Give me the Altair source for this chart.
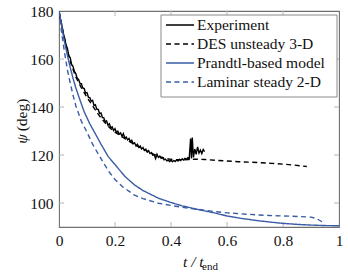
import altair as alt
import pandas as pd

# Measured angle psi (deg) against normalised time t / t_end
exp_t = [0.000, 0.005, 0.010, 0.015, 0.020, 0.025, 0.030, 0.035, 0.040, 0.045,
         0.050, 0.055, 0.060, 0.065, 0.070, 0.075, 0.080, 0.085, 0.090, 0.095,
         0.100, 0.105, 0.110, 0.115, 0.120, 0.125, 0.130, 0.135, 0.140, 0.145,
         0.150, 0.155, 0.160, 0.165, 0.170, 0.175, 0.180, 0.185, 0.190, 0.195,
         0.200, 0.205, 0.210, 0.215, 0.220, 0.225, 0.230, 0.235, 0.240, 0.245,
         0.250, 0.255, 0.260, 0.265, 0.270, 0.275, 0.280, 0.285, 0.290, 0.295,
         0.300, 0.305, 0.310, 0.315, 0.320, 0.325, 0.330, 0.335, 0.340, 0.345,
         0.350, 0.355, 0.360, 0.365, 0.370, 0.375, 0.380, 0.385, 0.390, 0.395,
         0.400, 0.405, 0.410, 0.415, 0.420, 0.425, 0.430, 0.435, 0.440, 0.445,
         0.450, 0.455, 0.460, 0.465, 0.470, 0.473, 0.476, 0.480, 0.485, 0.490,
         0.495, 0.500, 0.505, 0.510, 0.515, 0.520]
exp_psi = [180.0, 176.6, 174.1, 170.8, 168.9, 165.9, 164.4, 161.4, 160.5, 157.8,
           156.9, 154.8, 153.9, 152.0, 151.5, 149.8, 149.7, 147.9, 147.7, 145.8,
           146.0, 144.1, 143.9, 142.4, 142.8, 140.6, 140.9, 139.1, 139.0, 137.3,
           137.5, 135.6, 135.5, 133.8, 134.2, 132.4, 133.0, 131.3, 131.7, 130.2,
           131.0, 129.4, 129.9, 128.7, 129.2, 127.8, 128.9, 127.0, 127.5, 126.3,
           126.9, 125.5, 126.1, 124.7, 125.1, 123.8, 124.5, 123.2, 123.8, 122.5,
           123.1, 121.9, 122.4, 121.2, 121.8, 120.6, 121.0, 119.9, 120.1, 118.5,
           120.3, 119.0, 119.5, 118.6, 118.9, 118.0, 118.3, 117.6, 117.9, 117.3,
           117.8, 117.2, 117.7, 117.3, 117.9, 117.5, 118.2, 117.7, 118.4, 117.9,
           118.6, 118.2, 118.9, 118.4, 126.9, 118.6, 127.3, 119.0, 122.5, 120.3,
           123.4, 120.8, 122.0, 120.6, 122.3, 121.4]

des_t = [0.00, 0.02, 0.04, 0.06, 0.08, 0.10, 0.12, 0.14, 0.16, 0.18, 0.20,
         0.22, 0.24, 0.26, 0.28, 0.30, 0.32, 0.34, 0.36, 0.38, 0.40, 0.42,
         0.44, 0.46, 0.48, 0.50, 0.52, 0.56, 0.60, 0.64, 0.68, 0.72, 0.76,
         0.80, 0.84, 0.885]
des_psi = [180.0, 168.0, 159.0, 152.5, 148.0, 144.0, 140.5, 137.0, 134.0, 131.5, 129.5,
           128.0, 126.5, 125.0, 123.7, 122.5, 121.3, 120.2, 119.3, 118.6, 118.2, 118.0,
           118.0, 118.1, 118.2, 118.2, 118.1, 117.8, 117.5, 117.2, 117.0, 116.8, 116.5,
           116.2, 115.8, 115.2]

prandtl_t = [0.00, 0.01, 0.02, 0.03, 0.04, 0.05, 0.06, 0.075, 0.09, 0.11, 0.13,
             0.15, 0.176, 0.20, 0.236, 0.27, 0.30, 0.355, 0.40, 0.44, 0.50, 0.55,
             0.60, 0.65, 0.70, 0.75, 0.80, 0.85, 0.90, 0.95, 1.00]
prandtl_psi = [180.0, 173.5, 167.0, 161.5, 156.5, 152.0, 148.0, 142.9, 138.0, 133.0, 128.8,
               124.5, 119.3, 116.0, 111.0, 107.5, 105.2, 102.0, 100.2, 98.8, 97.2, 96.0,
               94.6, 93.6, 92.8, 92.1, 91.5, 91.1, 90.8, 90.6, 90.5]

laminar_t = [0.00, 0.01, 0.02, 0.03, 0.04, 0.05, 0.06, 0.08, 0.10, 0.12, 0.14,
             0.16, 0.18, 0.20, 0.23, 0.27, 0.30, 0.355, 0.40, 0.44, 0.50, 0.55,
             0.60, 0.65, 0.70, 0.75, 0.80, 0.85, 0.90, 0.92, 0.945]
laminar_psi = [180.0, 170.5, 162.5, 155.5, 150.0, 145.0, 140.5, 134.0, 129.5, 124.5, 120.5,
               116.5, 112.8, 109.8, 106.5, 103.3, 101.8, 99.9, 99.0, 98.2, 97.3, 96.5,
               95.9, 95.5, 95.1, 94.8, 94.6, 94.4, 94.1, 93.5, 91.8]

series = ["Experiment", "DES unsteady 3-D", "Prandtl-based model", "Laminar steady 2-D"]
colors = ["#000000", "#000000", "#3a5ca6", "#3a5ca6"]
dashes = [[1, 0], [5, 3.5], [1, 0], [5, 3.5]]

x_ticks = [0, 0.2, 0.4, 0.6, 0.8, 1]
y_ticks = [100, 120, 140, 160, 180]
x_inner = [0.2, 0.4, 0.6, 0.8]
y_inner = [100, 120, 140, 160]

FONT = "Liberation Serif"
FS = 15.5
W, H = 280, 216

frames = []
for name, ts, ps in [(series[0], exp_t, exp_psi), (series[1], des_t, des_psi),
                     (series[2], prandtl_t, prandtl_psi), (series[3], laminar_t, laminar_psi)]:
    frames.append(pd.DataFrame({"t": ts, "psi": ps, "series": name, "i": range(len(ts))}))
curves = pd.concat(frames, ignore_index=True)

color_scale = alt.Scale(domain=series, range=colors)
dash_scale = alt.Scale(domain=series, range=dashes)

x_enc = alt.X("t:Q", scale=alt.Scale(domain=[0, 1], nice=False, zero=False),
              axis=alt.Axis(values=x_ticks, format="~g", ticks=False, domain=False, grid=False,
                            title=None, labelFont=FONT, labelFontSize=FS, labelColor="#111",
                            labelPadding=6, labelFlush=False, labelOverlap=False))
y_enc = alt.Y("psi:Q", scale=alt.Scale(domain=[90, 180], nice=False, zero=False),
              axis=alt.Axis(values=y_ticks, ticks=False, domain=False, grid=False,
                            title=None, labelFont=FONT, labelFontSize=FS, labelColor="#111",
                            labelPadding=6, labelFlush=False, labelOverlap=False))

lines = alt.Chart(curves).mark_line(strokeWidth=1.4, clip=True).encode(
    x=x_enc, y=y_enc,
    color=alt.Color("series:N", scale=color_scale, legend=None),
    strokeDash=alt.StrokeDash("series:N", scale=dash_scale, legend=None),
    detail="series:N",
    order="i:Q",
)

# inward tick marks on all four sides
tick_color = "#b4b4b4"
xt = pd.DataFrame({"t": x_inner})
yt = pd.DataFrame({"psi": y_inner})
ticks_bottom = alt.Chart(xt).mark_rule(color=tick_color, strokeWidth=1).encode(
    x="t:Q", y=alt.value(H), y2=alt.value(H - 5))
ticks_top = alt.Chart(xt).mark_rule(color=tick_color, strokeWidth=1).encode(
    x="t:Q", y=alt.value(0), y2=alt.value(5))
ticks_left = alt.Chart(yt).mark_rule(color=tick_color, strokeWidth=1).encode(
    y="psi:Q", x=alt.value(0), x2=alt.value(5))
ticks_right = alt.Chart(yt).mark_rule(color=tick_color, strokeWidth=1).encode(
    y="psi:Q", x=alt.value(W), x2=alt.value(W - 5))

# legend box
legend_df = pd.DataFrame({"series": series, "row": range(len(series))})
box = alt.Chart(pd.DataFrame({"k": [0]})).mark_rect(
    fill="white", stroke="#8a8a8a", strokeWidth=1).encode(
    x=alt.value(102), x2=alt.value(278), y=alt.value(4), y2=alt.value(86))
samples = alt.Chart(legend_df).transform_calculate(py="14 + datum.row * 19").mark_rule(
    strokeWidth=1.4).encode(
    x=alt.value(107), x2=alt.value(135),
    y=alt.Y("py:Q", scale=None),
    color=alt.Color("series:N", scale=color_scale, legend=None),
    strokeDash=alt.StrokeDash("series:N", scale=dash_scale, legend=None),
)
labels = alt.Chart(legend_df).transform_calculate(py="14 + datum.row * 19").mark_text(
    align="left", baseline="middle", font=FONT, fontSize=FS, color="#111").encode(
    x=alt.value(138), y=alt.Y("py:Q", scale=None), text="series:N")

# axis titles
psi_lbl = alt.Chart(pd.DataFrame({"s": ["ψ"]})).mark_text(
    angle=270, align="center", baseline="middle", font=FONT, fontSize=FS,
    fontStyle="italic", color="#111").encode(x=alt.value(-37), y=alt.value(128), text="s:N")
deg_lbl = alt.Chart(pd.DataFrame({"s": ["(deg)"]})).mark_text(
    angle=270, align="center", baseline="middle", font=FONT, fontSize=FS,
    color="#111").encode(x=alt.value(-37), y=alt.value(104), text="s:N")
t_lbl = alt.Chart(pd.DataFrame({"s": ["t / t"]})).mark_text(
    align="left", baseline="alphabetic", font=FONT, fontSize=FS,
    fontStyle="italic", color="#111").encode(x=alt.value(124), y=alt.value(256), text="s:N")
end_lbl = alt.Chart(pd.DataFrame({"s": ["end"]})).mark_text(
    align="left", baseline="alphabetic", font=FONT, fontSize=11,
    color="#111").encode(x=alt.value(143), y=alt.value(259), text="s:N")

chart = alt.layer(
    ticks_bottom, ticks_top, ticks_left, ticks_right,
    lines, box, samples, labels,
    psi_lbl, deg_lbl, t_lbl, end_lbl,
).properties(
    width=W, height=H,
    padding={"left": 59, "top": 11, "right": 9, "bottom": 48},
    autosize="none",
    background="white",
).configure_view(stroke="#707070", strokeWidth=1.1)

chart.save("out.html", embed_options={"renderer": "svg", "actions": False})
